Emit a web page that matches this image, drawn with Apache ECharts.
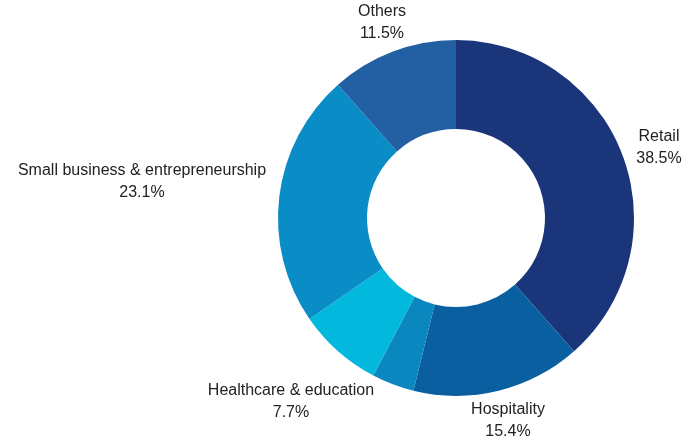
<!DOCTYPE html>
<html>
<head>
<meta charset="utf-8">
<style>
  html, body { margin: 0; padding: 0; background: #ffffff; }
  #chart { width: 696px; height: 443px; }
</style>
<script src="https://cdn.jsdelivr.net/npm/echarts@6/dist/echarts.min.js"></script>
</head>
<body>
<div id="chart"></div>
<script>
// Sector shares (clockwise from 12 o'clock)
const sectors = ['Retail', 'Hospitality', 'Other services', 'Healthcare & education', 'Small business & entrepreneurship', 'Others'];
const shares = [10, 4, 1, 2, 6, 3];
const showLabel = [true, true, false, true, true, true];

const sliceColors = ['#1b357b', '#0a5fa1', '#0a87bf', '#02b9dd', '#0a8cc6', '#225fa3'];
// Label block centres in pixels
const labelSpots = [[659, 148], [508, 421], null, [291, 402], [142, 182], [382, 23]];

const total = shares.reduce((a, b) => a + b, 0);

const chart = echarts.init(document.getElementById('chart'), null, { renderer: 'canvas' });
chart.setOption({
  animation: false,
  series: [{
    type: 'pie',
    center: [456, 218],
    radius: [89, 178],
    startAngle: 90,
    clockwise: true,
    avoidLabelOverlap: false,
    itemStyle: { borderWidth: 0 },
    label: {
      show: true,
      position: 'outside',
      color: '#222222',
      fontFamily: 'Liberation Sans, Arial, sans-serif',
      fontSize: 16,
      lineHeight: 22,
      align: 'center',
      formatter: p => p.name + '\n' + (p.value / total * 100).toFixed(1) + '%'
    },
    labelLine: { show: false },
    labelLayout: p => {
      const s = labelSpots[p.dataIndex];
      if (!s) return {};
      return { x: s[0], y: s[1], align: 'center', verticalAlign: 'middle' };
    },
    emphasis: { disabled: true },
    data: sectors.map((n, i) => ({
      name: n,
      value: shares[i],
      itemStyle: { color: sliceColors[i] },
      label: { show: showLabel[i] }
    }))
  }]
});
</script>
</body>
</html>
